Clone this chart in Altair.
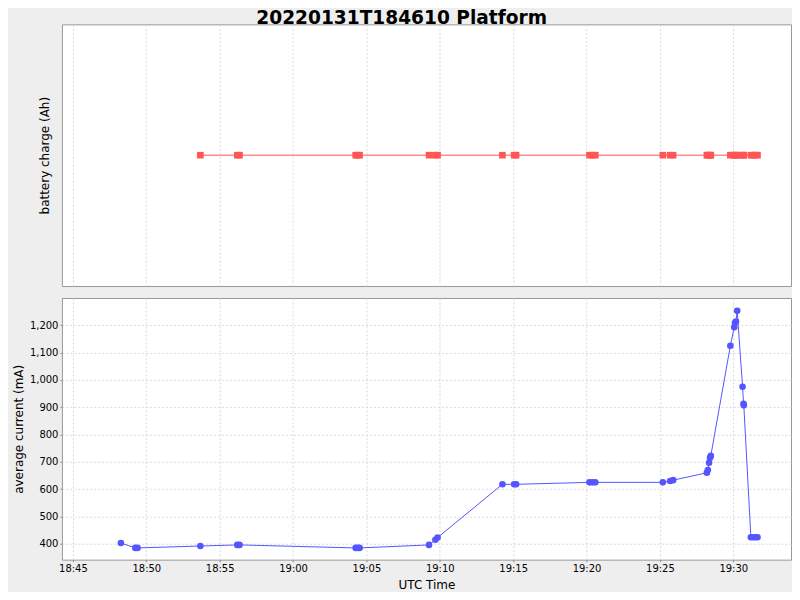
import altair as alt
import pandas as pd

times = ["18:48:16", "18:49:15", "18:49:24", "18:53:41", "18:56:12", "18:56:21",
         "19:04:16", "19:04:24", "19:04:32", "19:09:16", "19:09:42", "19:09:51",
         "19:14:16", "19:15:04", "19:15:12", "19:20:12", "19:20:24", "19:20:36",
         "19:25:12", "19:25:42", "19:25:54", "19:28:12", "19:28:16", "19:28:21",
         "19:28:25", "19:28:28", "19:29:48", "19:30:04", "19:30:07", "19:30:11",
         "19:30:16", "19:30:38", "19:30:42", "19:30:43", "19:31:12", "19:31:21",
         "19:31:30", "19:31:39"]
current_mA = [403, 385, 385, 392, 396, 396,
              385, 385, 385, 396, 415, 423,
              618, 618, 618, 625, 625, 625,
              625, 630, 633, 660, 670, 697,
              715, 722, 1125, 1193, 1209, 1214,
              1253, 975, 913, 907, 424, 424,
              424, 424]
charge_Ah = [None, None, None] + [0.0] * 35
x_ticks = ["18:45", "18:50", "18:55", "19:00", "19:05", "19:10", "19:15",
           "19:20", "19:25", "19:30"]
x_range = ["18:44:15", "19:33:56"]

def ms(t):
    return int(pd.Timestamp("2022-01-31T" + t, tz="UTC").value // 10**6)

df = pd.DataFrame({
    "time": [ms(t) for t in times],
    "current": current_mA,
    "charge": charge_Ah,
})

FONT = "DejaVu Sans"
x_scale = alt.Scale(type="utc", domain=[ms(t) for t in x_range], nice=False)
x_vals = [ms(t) for t in x_ticks]

base = alt.Chart(df)

top = base.transform_filter("isValid(datum.charge)").mark_line(
    color="#FF5555", strokeWidth=1,
    point=alt.OverlayMarkDef(shape="square", size=44, color="#FF5555", filled=True, opacity=1)
).encode(
    x=alt.X("time:T", scale=x_scale,
            axis=alt.Axis(labels=False, ticks=False, title=None, domain=False,
                          grid=True, values=x_vals)),
    y=alt.Y("charge:Q", scale=alt.Scale(domain=[-1, 1], nice=False),
            axis=alt.Axis(labels=False, ticks=False, grid=False, domain=False,
                          title="battery charge (Ah)", titlePadding=10)),
).properties(width=730, height=262)

bottom = base.mark_line(
    color="#5555FF", strokeWidth=1,
    point=alt.OverlayMarkDef(shape="circle", size=44, color="#5555FF", filled=True, opacity=1)
).encode(
    x=alt.X("time:T", scale=x_scale,
            axis=alt.Axis(labelExpr="utcFormat(datum.value, '%H:%M')", title="UTC Time",
                          domain=False, grid=True, values=x_vals, titlePadding=6)),
    y=alt.Y("current:Q", scale=alt.Scale(domain=[342, 1300], nice=False, zero=False),
            axis=alt.Axis(values=list(range(400, 1300, 100)), format=",d",
                          title="average current (mA)", domain=False, grid=True,
                          titlePadding=4)),
).properties(width=730, height=262)

chart = alt.vconcat(top, bottom, spacing=10).properties(
    title=alt.TitleParams("20220131T184610 Platform", fontSize=18.6, fontWeight="bold",
                          font=FONT, anchor="middle", color="black", offset=-4),
    background="#EEEEEE",
    padding={"left": 3, "top": 0, "right": 0, "bottom": 0},
).configure_view(
    stroke="#999999", strokeWidth=1, fill="white"
).configure_axis(
    labelFont=FONT, titleFont=FONT, labelFontSize=10, titleFontSize=12,
    titleFontWeight="normal", labelColor="black", titleColor="black",
    gridColor="#d8d8d8", gridDash=[2, 2], gridWidth=1,
    tickColor="#888888", tickSize=2, labelPadding=2,
)

chart.save("out.html", embed_options={"renderer": "svg", "actions": False})
